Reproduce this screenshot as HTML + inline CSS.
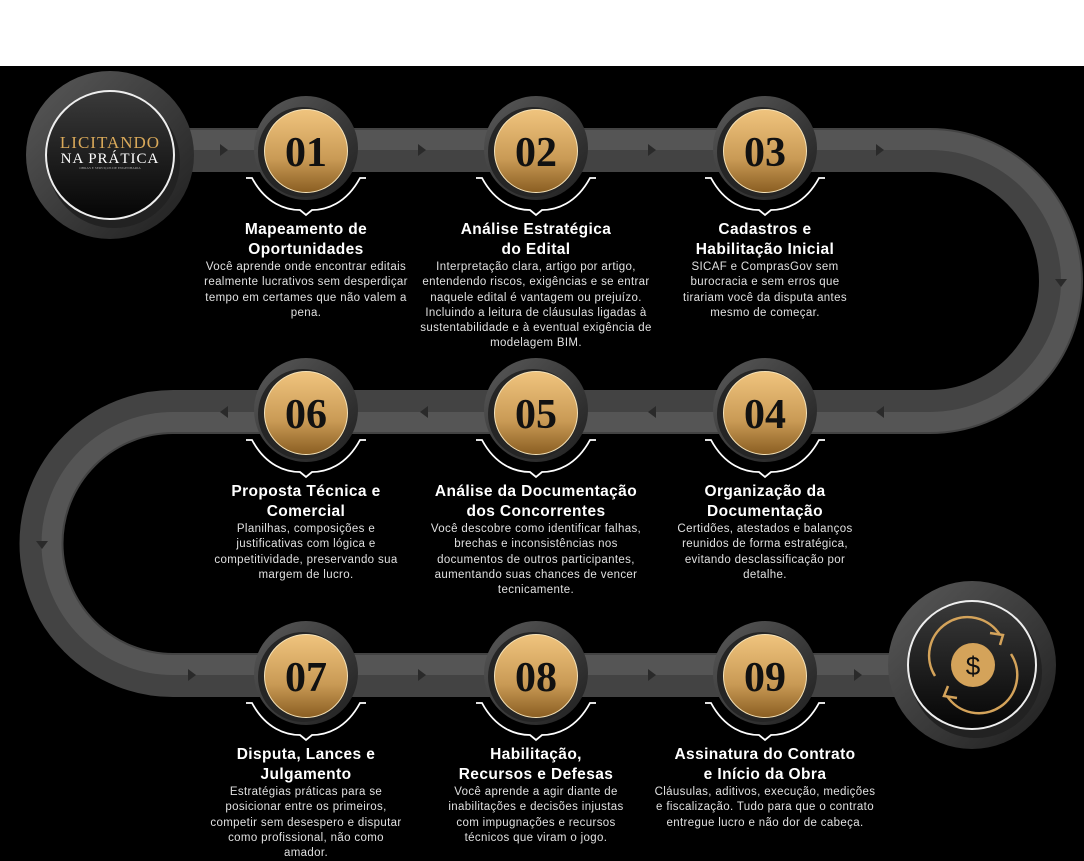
<!DOCTYPE html>
<html><head><meta charset="utf-8"><style>
body{margin:0;width:1084px;height:861px;background:#fff;overflow:hidden;font-family:"Liberation Sans",sans-serif}
#bg{position:absolute;left:0;top:66px;width:1084px;height:795px;background:#000}
svg{position:absolute;left:0;top:0}
.t{position:absolute;text-align:center;color:#fff}
.t h3{margin:0;font-size:15.5px;line-height:20px;font-weight:bold;letter-spacing:0.4px}
.t p{margin:0;font-size:11.5px;line-height:15.3px;color:#e0e0e0;letter-spacing:0.35px}
</style></head><body>
<div id="bg"></div>
<svg width="1084" height="861" viewBox="0 0 1084 861">
<defs>
<linearGradient id="gold" x1="0" y1="0" x2="0" y2="1"><stop offset="0" stop-color="#f0c47e"/><stop offset="0.6" stop-color="#c99a55"/><stop offset="1" stop-color="#8a5e22"/></linearGradient>
<linearGradient id="dk" x1="0" y1="0" x2="1" y2="1"><stop offset="0" stop-color="#5a5a5a"/><stop offset="1" stop-color="#1e1e1e"/></linearGradient>
<linearGradient id="in" x1="0" y1="0" x2="0" y2="1"><stop offset="0" stop-color="#3a3a3a"/><stop offset="1" stop-color="#050505"/></linearGradient>
<g id="num"><circle r="52" fill="url(#dk)"/><circle r="45" cx="-3" cy="4" fill="#252525"/><circle r="41.5" cy="3" fill="url(#gold)" stroke="#f5e2b8" stroke-width="1"/></g>
<path id="br" d="M-60 30 H-54 C-40 56 -20 62 -6 62 L0 67 L6 62 C20 62 40 56 54 30 H60" fill="none" stroke="#fff" stroke-width="1.8"/>
</defs>
<g fill="none" stroke-linecap="butt">
<path d="M110 150 H930 A131 131 0 0 1 930 412 H173 A131 131 0 0 0 173 675 H972" stroke="#434343" stroke-width="44"/>
<path d="M110 140 H930 A141 141 0 0 1 930 422 H173 A121 121 0 0 0 173 665 H972" stroke="#5c5c5c" stroke-width="20" opacity="0.7"/>
</g>
<g fill="#2a2a2a">
<path d="M220 144 l8 6 -8 6z"/><path d="M418 144 l8 6 -8 6z"/><path d="M648 144 l8 6 -8 6z"/><path d="M876 144 l8 6 -8 6z"/>
<path d="M1055 279 l12 0 -6 8z"/>
<path d="M884 406 l-8 6 8 6z"/><path d="M656 406 l-8 6 8 6z"/><path d="M428 406 l-8 6 8 6z"/><path d="M228 406 l-8 6 8 6z"/>
<path d="M36 541 l12 0 -6 8z"/>
<path d="M188 669 l8 6 -8 6z"/><path d="M418 669 l8 6 -8 6z"/><path d="M648 669 l8 6 -8 6z"/><path d="M854 669 l8 6 -8 6z"/>
</g>
<circle cx="110" cy="155" r="84" fill="url(#dk)"/>
<circle cx="114" cy="162" r="66" fill="#222"/>
<circle cx="110" cy="155" r="64" fill="url(#in)" stroke="#eee" stroke-width="2"/>
<text x="110" y="148" text-anchor="middle" font-family="Liberation Serif,serif" font-size="17" fill="#d9a95a" letter-spacing="1">LICITANDO</text>
<text x="110" y="163" text-anchor="middle" font-family="Liberation Serif,serif" font-size="15" fill="#fff" letter-spacing="1">NA PRÁTICA</text>
<text x="110" y="169" text-anchor="middle" font-family="Liberation Serif,serif" font-size="3.5" fill="#aaa">OBRAS E SERVIÇOS DE ENGENHARIA</text>
<circle cx="972" cy="665" r="84" fill="url(#dk)"/>
<circle cx="976" cy="672" r="66" fill="#222"/>
<circle cx="972" cy="665" r="64" fill="url(#in)" stroke="#eee" stroke-width="2"/>
<g fill="none" stroke="#d4a35a" stroke-width="2.5">
<path d="M935 676 A38 38 0 0 1 1000 635"/><path d="M990 633 l13 2 -3 10"/>
<path d="M1011 654 A38 38 0 0 1 947 696"/><path d="M957 698 l-13 -2 4 -10"/>
</g>
<circle cx="973" cy="665" r="22" fill="#d4a35a"/>
<text x="973" y="675" text-anchor="middle" font-size="26" fill="#111">$</text>
<g font-family="Liberation Serif,serif" font-weight="bold" font-size="42" text-anchor="middle" fill="#111">
<g transform="translate(306,148)"><use href="#num"/><use href="#br"/><text y="18">01</text></g>
<g transform="translate(536,148)"><use href="#num"/><use href="#br"/><text y="18">02</text></g>
<g transform="translate(765,148)"><use href="#num"/><use href="#br"/><text y="18">03</text></g>
<g transform="translate(306,410)"><use href="#num"/><use href="#br"/><text y="18">06</text></g>
<g transform="translate(536,410)"><use href="#num"/><use href="#br"/><text y="18">05</text></g>
<g transform="translate(765,410)"><use href="#num"/><use href="#br"/><text y="18">04</text></g>
<g transform="translate(306,673)"><use href="#num"/><use href="#br"/><text y="18">07</text></g>
<g transform="translate(536,673)"><use href="#num"/><use href="#br"/><text y="18">08</text></g>
<g transform="translate(765,673)"><use href="#num"/><use href="#br"/><text y="18">09</text></g>
</g>
</svg>
<div class="t" style="left:201px;top:220px;width:210px"><h3>Mapeamento de<br>Oportunidades</h3><p>Você aprende onde encontrar editais realmente lucrativos sem desperdiçar tempo em certames que não valem a pena.</p></div>
<div class="t" style="left:416px;top:220px;width:240px"><h3>Análise Estratégica<br>do Edital</h3><p>Interpretação clara, artigo por artigo, entendendo riscos, exigências e se entrar naquele edital é vantagem ou prejuízo. Incluindo a leitura de cláusulas ligadas à sustentabilidade e à eventual exigência de modelagem BIM.</p></div>
<div class="t" style="left:670px;top:220px;width:190px"><h3>Cadastros e<br>Habilitação Inicial</h3><p>SICAF e ComprasGov sem burocracia e sem erros que tirariam você da disputa antes mesmo de começar.</p></div>
<div class="t" style="left:206px;top:482px;width:200px"><h3>Proposta Técnica e<br>Comercial</h3><p>Planilhas, composições e justificativas com lógica e competitividade, preservando sua margem de lucro.</p></div>
<div class="t" style="left:421px;top:482px;width:230px"><h3>Análise da Documentação<br>dos Concorrentes</h3><p>Você descobre como identificar falhas, brechas e inconsistências nos documentos de outros participantes, aumentando suas chances de vencer tecnicamente.</p></div>
<div class="t" style="left:665px;top:482px;width:200px"><h3>Organização da<br>Documentação</h3><p>Certidões, atestados e balanços reunidos de forma estratégica, evitando desclassificação por detalhe.</p></div>
<div class="t" style="left:206px;top:745px;width:200px"><h3>Disputa, Lances e<br>Julgamento</h3><p>Estratégias práticas para se posicionar entre os primeiros, competir sem desespero e disputar como profissional, não como amador.</p></div>
<div class="t" style="left:436px;top:745px;width:200px"><h3>Habilitação,<br>Recursos e Defesas</h3><p>Você aprende a agir diante de inabilitações e decisões injustas com impugnações e recursos técnicos que viram o jogo.</p></div>
<div class="t" style="left:650px;top:745px;width:230px"><h3>Assinatura do Contrato<br>e Início da Obra</h3><p>Cláusulas, aditivos, execução, medições e fiscalização. Tudo para que o contrato entregue lucro e não dor de cabeça.</p></div>
</body></html>
